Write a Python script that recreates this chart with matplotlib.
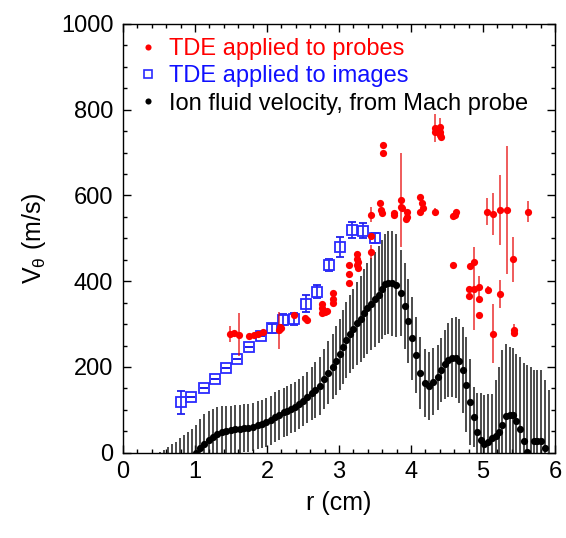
import matplotlib
matplotlib.use("Agg")
import matplotlib.pyplot as plt
from matplotlib.lines import Line2D
from matplotlib.ticker import MultipleLocator

plt.rcParams['font.family'] = ['Liberation Sans', 'DejaVu Sans']
plt.rcParams['mathtext.fontset'] = 'custom'
plt.rcParams['mathtext.rm'] = 'Liberation Sans'
plt.rcParams['mathtext.it'] = 'Liberation Sans:italic'

# ---------------- data ----------------
# Ion fluid velocity from Mach probe (black)
black_r = [0.51, 0.57, 0.62, 0.68, 0.73, 0.79, 0.85, 0.90, 0.96,
           1.01, 1.07, 1.13, 1.19, 1.25, 1.31, 1.37, 1.43, 1.50, 1.56,
           1.62, 1.68, 1.74, 1.80, 1.87, 1.93, 1.99, 2.05, 2.11, 2.17,
           2.23, 2.28, 2.33, 2.39, 2.45, 2.50, 2.56, 2.62, 2.67, 2.73,
           2.79, 2.85, 2.91, 2.96, 3.01, 3.06, 3.10, 3.15, 3.20, 3.25,
           3.30, 3.35, 3.39, 3.45, 3.50, 3.55, 3.60, 3.64, 3.68, 3.74,
           3.79,
           3.86, 3.91, 3.96, 4.01, 4.07, 4.13, 4.19, 4.25, 4.31, 4.37,
           4.42, 4.47, 4.52, 4.57, 4.62, 4.67, 4.72, 4.77, 4.82, 4.87,
           4.92, 4.97, 5.02, 5.07, 5.12, 5.18, 5.22, 5.27, 5.32, 5.37,
           5.42, 5.46, 5.51, 5.57, 5.61, 5.66, 5.71, 5.75, 5.80, 5.86,
           5.91]
black_v = [-62, -57, -50, -44, -38, -30, -23, -16, -8,
           0, 10, 20, 30, 37, 44, 48, 51, 53, 55,
           56, 57, 58, 61, 64, 67, 71, 76, 83, 88,
           94, 97, 103, 107, 114, 121, 129, 139, 146, 156,
           171, 187, 201, 215, 230, 247, 263, 276, 289, 302,
           312, 325, 337, 347, 358, 369, 381, 393, 397, 395,
           391,
           372, 343, 307, 267, 228, 186, 163, 156, 166, 176,
           193, 206, 216, 222, 222, 214, 193, 159, 119, 83,
           49, 30, 20, 24, 34, 38, 48, 64, 86, 88,
           88, 73, 56, 27, 2, -10, 28, 28, 27, 12,
           -10]
black_err = [64, 64, 64, 64, 64, 64, 64, 64, 64,
             65, 68, 70, 68, 66, 62, 60, 57, 56, 56,
             56, 56, 56, 56, 56, 56, 57, 57, 58, 58,
             58, 58, 58, 58, 58, 58, 60, 62, 65, 67,
             70, 73, 76, 80, 83, 86, 88, 91, 94, 97,
             100, 103, 106, 108, 111, 113, 116, 118, 120, 122,
             120,
             100, 100, 98, 97, 89, 85, 80, 80, 78, 76,
             75, 80, 87, 93, 95, 98, 100, 110, 100, 70,
             90, 110, 115, 114, 104, 132, 153, 176, 167, 159,
             156, 157, 168, 183, 203, 210, 166, 165, 166, 158,
             156]

# TDE applied to images (blue open squares)
blue_r = [0.80, 0.95, 1.12, 1.28, 1.43, 1.59, 1.75, 1.91, 2.07, 2.22,
          2.38, 2.54, 2.70, 2.86, 3.02, 3.18, 3.34, 3.50]
blue_v = [118, 129, 150, 173, 198, 219, 247, 272, 290, 310,
          312, 348, 376, 438, 480, 519, 518, 501]
blue_err = [27, 0, 0, 0, 0, 0, 0, 0, 11, 13,
            14, 19, 16, 15, 24, 19, 17, 12]

# TDE applied to probes (red dots)
red_r = [1.48, 1.54, 1.61, 1.75, 1.82, 1.88, 1.95, 2.16, 2.18, 2.20,
         2.37, 2.53, 2.55, 2.76, 2.77, 2.76, 2.81, 2.83, 2.91, 2.92,
         2.92, 3.14, 3.14, 3.14, 3.25, 3.25, 3.26, 3.25, 3.27, 3.44,
         3.44, 3.44, 3.57, 3.58, 3.60, 3.61, 3.61, 3.76, 3.76, 3.86,
         3.86, 3.87, 3.94, 3.94, 3.93, 4.13, 4.15, 4.16, 4.13, 4.34,
         4.34, 4.40, 4.40, 4.40, 4.41, 4.34, 4.58, 4.61, 4.62, 4.58,
         4.81, 4.81, 4.87, 4.88, 4.82, 4.95, 4.95, 4.95, 5.07, 5.06,
         5.14, 5.24, 5.34, 5.24, 5.42, 5.14, 5.43, 5.43, 5.62]
red_v = [277, 280, 275, 272, 274, 278, 281, 286, 294, 291,
         322, 314, 310, 347, 337, 325, 329, 331, 373, 358,
         350, 438, 417, 397, 463, 453, 445, 437, 430, 555,
         505, 469, 582, 566, 558, 718, 698, 558, 554, 590,
         574, 570, 562, 550, 544, 597, 582, 570, 561, 757,
         749, 759, 749, 741, 736, 562, 551, 554, 562, 438,
         382, 366, 383, 446, 436, 386, 358, 321, 380, 562,
         557, 566, 566, 370, 451, 278, 286, 279, 562]
red_err = [18, 0, 50, 0, 0, 0, 0, 43, 0, 0,
           0, 0, 0, 0, 0, 0, 0, 0, 0, 0,
           0, 0, 0, 0, 0, 0, 0, 0, 0, 18,
           0, 16, 0, 0, 0, 0, 0, 0, 0, 110,
           0, 0, 0, 0, 0, 0, 0, 0, 0, 33,
           0, 21, 0, 0, 0, 9, 0, 0, 0, 0,
           0, 0, 96, 0, 0, 26, 0, 0, 9, 32,
           49, 82, 150, 32, 52, 68, 14, 0, 25]

legend_labels = ["TDE applied to probes", "TDE applied to images",
                 "Ion fluid velocity, from Mach probe"]

# ---------------- figure ----------------
fig = plt.figure(figsize=(5.66, 5.38), dpi=100)
ax = fig.add_axes([0.2173, 0.1585, 0.7633, 0.7969])

ax.errorbar(black_r, black_v, yerr=black_err, fmt='o', color='black',
            ecolor='#1a1a1a', elinewidth=1.1, capsize=2.4, capthick=1.1,
            markersize=5.2, markeredgewidth=0, zorder=2)
ax.errorbar(blue_r, blue_v, yerr=blue_err, fmt='s', color='#1a1aff',
            mfc='none', mec='#2a2aff', mew=1.3, markersize=6.6,
            ecolor='#2020ee', elinewidth=1.2, capsize=2.6, capthick=1.2,
            zorder=3)
ax.errorbar(red_r, red_v, yerr=red_err, fmt='o', color='red',
            ecolor=(0.9, 0.0, 0.0, 0.75), elinewidth=1.2, capsize=2.6,
            capthick=1.2, markersize=5.2, markeredgewidth=0, zorder=4)

ax.set_xlim(0, 6)
ax.set_ylim(0, 1000)
ax.xaxis.set_major_locator(MultipleLocator(1))
ax.xaxis.set_minor_locator(MultipleLocator(0.2))
ax.yaxis.set_major_locator(MultipleLocator(200))
ax.yaxis.set_minor_locator(MultipleLocator(50))
ax.tick_params(which='both', direction='in', top=True, right=True,
               labelsize=17, width=1.0)
ax.tick_params(which='major', length=6, pad=6)
ax.tick_params(axis='y', which='major', pad=7)
ax.tick_params(which='minor', length=3)
for s in ax.spines.values():
    s.set_linewidth(1.0)

ax.set_xlabel('r (cm)', fontsize=18, labelpad=6)
ax.set_ylabel(r'V$_\mathregular{θ}$ (m/s)', fontsize=18, labelpad=9)

handles = [
    Line2D([], [], ls='none', marker='o', color='red', markersize=4.4,
           markeredgewidth=0),
    Line2D([], [], ls='none', marker='s', mfc='none', mec='#2a2aff',
           mew=1.2, markersize=6.4),
    Line2D([], [], ls='none', marker='o', color='black', markersize=4.4,
           markeredgewidth=0),
]
leg = ax.legend(handles, legend_labels, loc='upper left', frameon=False,
                fontsize=17, handlelength=0.9, handletextpad=0.45,
                labelspacing=0.22, borderaxespad=0.2,
                bbox_to_anchor=(0.0, 1.0))
for t, c in zip(leg.get_texts(), ['red', '#1010ff', 'black']):
    t.set_color(c)

fig.savefig('out.png', dpi=100)
